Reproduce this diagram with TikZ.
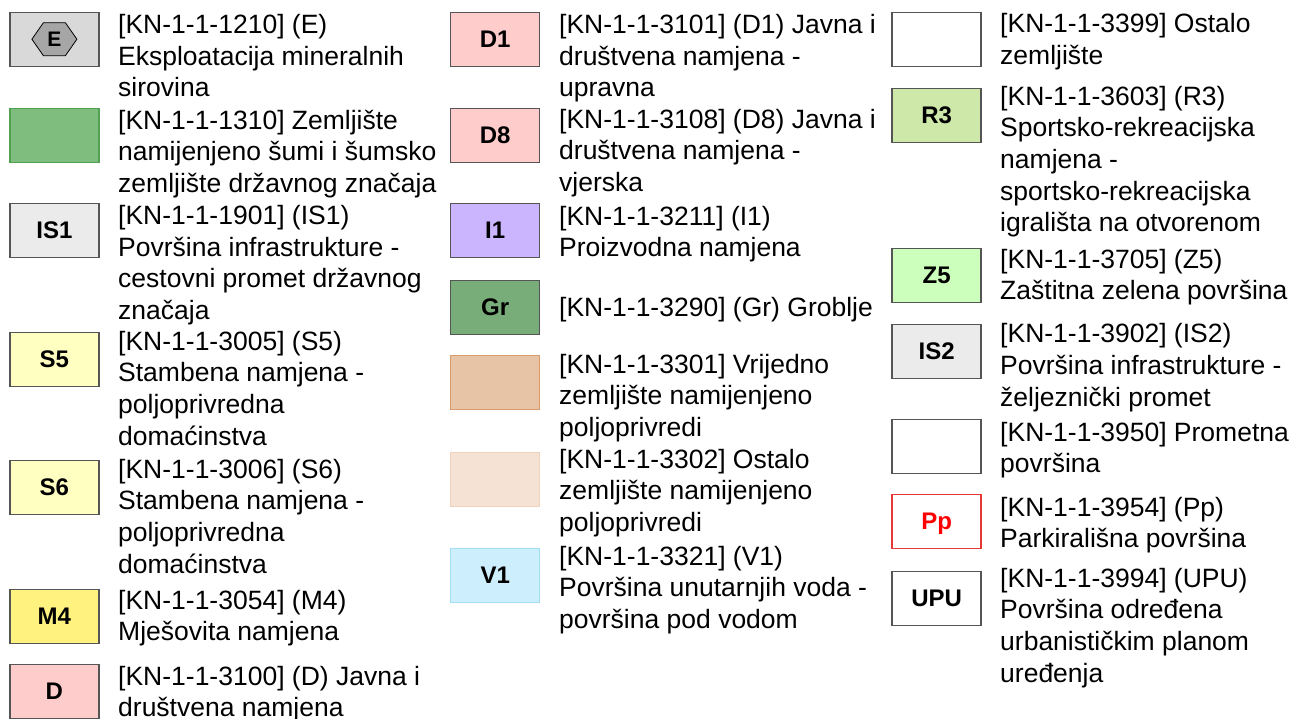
\documentclass[tikz,border=0pt]{standalone}
\usepackage{fontspec}
\setmainfont{Liberation Sans}
\definecolor{edge}{HTML}{555555}
\definecolor{quarry}{HTML}{D9D9D9}
\definecolor{hexgray}{HTML}{A6A6A6}
\definecolor{forest}{HTML}{7FBD7F}
\definecolor{forestedge}{HTML}{52A052}
\definecolor{infra}{HTML}{EBEBEB}
\definecolor{resid}{HTML}{FFFFC2}
\definecolor{mixed}{HTML}{FFF27F}
\definecolor{public}{HTML}{FFCCCC}
\definecolor{indust}{HTML}{CCB5FF}
\definecolor{cemetery}{HTML}{78AC78}
\definecolor{agri}{HTML}{E8C4A6}
\definecolor{agriedge}{HTML}{D99B6C}
\definecolor{agrilight}{HTML}{F5E2D5}
\definecolor{agrilightedge}{HTML}{F0D2BD}
\definecolor{water}{HTML}{CDEFFD}
\definecolor{wateredge}{HTML}{A6DEF5}
\definecolor{sport}{HTML}{CDE8A8}
\definecolor{protect}{HTML}{CCFFBB}
\definecolor{parkred}{HTML}{E53935}
\tikzset{
    swatch/.style={rectangle, draw=edge, line width=1.4pt, anchor=north west,
        minimum width=89pt, minimum height=54pt, inner sep=0pt,
        text height=17pt, text depth=0pt,
        font=\fontsize{24}{28}\selectfont\bfseries}
}
\tikzset{
    legend/.style={anchor=base west, inner sep=0pt,
        font=\fontsize{26.5}{31.7}\selectfont}
}

\begin{document}
\begin{tikzpicture}[x=1pt, y=-1pt]
  \useasboundingbox (0,0) rectangle (1294,718);

  % first column
  \node (e) [swatch, fill=quarry] at (9.2, 11.5) {};
  \draw[fill=hexgray, draw=black, line width=0.8pt, shift={(e.center)}]
    (-22.5,0) -- (-11,-16.5) -- (11,-16.5) -- (22.5,0) -- (11,16.5) -- (-11,16.5) -- cycle;
  \node (e-sym) [inner sep=0pt, font=\fontsize{21}{24}\selectfont\bfseries] at (e.center) {E};
  \node (sz) [swatch, fill=forest, draw=forestedge] at (9.2, 107.5) {};
  \node (is1) [swatch, fill=infra] at (9.2, 202.5) {IS1};
  \node (s5) [swatch, fill=resid] at (9.2, 331.5) {S5};
  \node (s6) [swatch, fill=resid] at (9.2, 459.5) {S6};
  \node (m4) [swatch, fill=mixed] at (9.2, 588.5) {M4};
  \node (d) [swatch, fill=public] at (9.2, 663.5) {D};

  \node (t-e) [legend] at (118, 33.3) {\parbox[t]{400pt}{[KN-1-1-1210] (E)\\Eksploatacija mineralnih\\sirovina}};
  \node (t-sz) [legend] at (118, 129) {\parbox[t]{400pt}{[KN-1-1-1310] Zemljište\\namijenjeno šumi i šumsko\\zemljište državnog značaja}};
  \node (t-is1) [legend] at (118, 224.5) {\parbox[t]{400pt}{[KN-1-1-1901] (IS1)\\Površina infrastrukture -\\cestovni promet državnog\\značaja}};
  \node (t-s5) [legend] at (118, 350) {\parbox[t]{400pt}{[KN-1-1-3005] (S5)\\Stambena namjena -\\poljoprivredna\\domaćinstva}};
  \node (t-s6) [legend] at (118, 478) {\parbox[t]{400pt}{[KN-1-1-3006] (S6)\\Stambena namjena -\\poljoprivredna\\domaćinstva}};
  \node (t-m4) [legend] at (118, 609) {\parbox[t]{400pt}{[KN-1-1-3054] (M4)\\Mješovita namjena}};
  \node (t-d) [legend] at (118, 685) {\parbox[t]{400pt}{[KN-1-1-3100] (D) Javna i\\društvena namjena}};

  % second column
  \node (d1) [swatch, fill=public] at (450, 11.5) {D1};
  \node (d8) [swatch, fill=public] at (450, 107.5) {D8};
  \node (i1) [swatch, fill=indust] at (450, 202.5) {I1};
  \node (gr) [swatch, fill=cemetery] at (450, 279.5) {Gr};
  \node (vz) [swatch, fill=agri, draw=agriedge] at (450, 354.5) {};
  \node (oz) [swatch, fill=agrilight, draw=agrilightedge] at (450, 451.5) {};
  \node (v1) [swatch, fill=water, draw=wateredge] at (450, 547.5) {V1};

  \node (t-d1) [legend] at (559, 33.5) {\parbox[t]{400pt}{[KN-1-1-3101] (D1) Javna i\\društvena namjena -\\upravna}};
  \node (t-d8) [legend] at (559, 128) {\parbox[t]{400pt}{[KN-1-1-3108] (D8) Javna i\\društvena namjena -\\vjerska}};
  \node (t-i1) [legend] at (559, 225) {\parbox[t]{400pt}{[KN-1-1-3211] (I1)\\Proizvodna namjena}};
  \node (t-gr) [legend] at (559, 316) {[KN-1-1-3290] (Gr) Groblje};
  \node (t-vz) [legend] at (559, 373) {\parbox[t]{400pt}{[KN-1-1-3301] Vrijedno\\zemljište namijenjeno\\poljoprivredi}};
  \node (t-oz) [legend] at (559, 468) {\parbox[t]{400pt}{[KN-1-1-3302] Ostalo\\zemljište namijenjeno\\poljoprivredi}};
  \node (t-v1) [legend] at (559, 565) {\parbox[t]{400pt}{[KN-1-1-3321] (V1)\\Površina unutarnjih voda -\\površina pod vodom}};

  % third column
  \node (oss) [swatch, fill=white] at (891.4, 11.5) {};
  \node (r3) [swatch, fill=sport] at (891.4, 87.5) {R3};
  \node (z5) [swatch, fill=protect] at (891.4, 247.5) {Z5};
  \node (is2) [swatch, fill=infra] at (891.4, 323.5) {IS2};
  \node (pr) [swatch, fill=white] at (891.4, 418.5) {};
  \node (pp) [swatch, fill=white, draw=parkred, text=red] at (891.4, 493.5) {Pp};
  \node (upu) [swatch, fill=white] at (891.4, 570.5) {UPU};

  \node (t-oss) [legend] at (1000, 32.5) {\parbox[t]{400pt}{[KN-1-1-3399] Ostalo\\zemljište}};
  \node (t-r3) [legend] at (1000, 105) {\parbox[t]{400pt}{[KN-1-1-3603] (R3)\\Sportsko-rekreacijska\\namjena -\\sportsko-rekreacijska\\igrališta na otvorenom}};
  \node (t-z5) [legend] at (1000, 268) {\parbox[t]{400pt}{[KN-1-1-3705] (Z5)\\Zaštitna zelena površina}};
  \node (t-is2) [legend] at (1000, 342.7) {\parbox[t]{400pt}{[KN-1-1-3902] (IS2)\\Površina infrastrukture -\\željeznički promet}};
  \node (t-pr) [legend] at (1000, 441) {\parbox[t]{400pt}{[KN-1-1-3950] Prometna\\površina}};
  \node (t-pp) [legend] at (1000, 516) {\parbox[t]{400pt}{[KN-1-1-3954] (Pp)\\Parkirališna površina}};
  \node (t-upu) [legend] at (1000, 587) {\parbox[t]{400pt}{[KN-1-1-3994] (UPU)\\Površina određena\\urbanističkim planom\\uređenja}};
\end{tikzpicture}
\end{document}
